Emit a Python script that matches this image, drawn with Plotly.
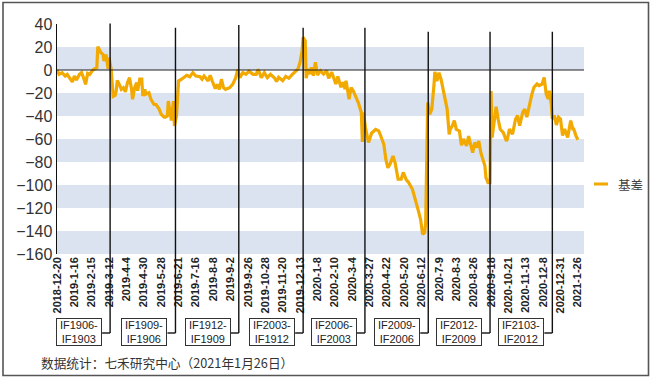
import plotly.graph_objects as go

# ---------------- data ----------------
# trading-day index since 2018-12-20, and basis value
day = [0, 2, 5, 8, 10, 13, 15, 17, 19, 22, 24, 26, 28, 30, 32, 35, 37, 39, 40, 41,
       43, 45, 46, 48, 49, 50, 51, 53, 55, 57, 58, 59, 61, 63, 65, 67, 69, 71, 73, 74,
       76, 78, 79, 81, 83, 84, 86, 87, 90, 92, 95, 97, 100, 102, 105, 106, 108, 109, 111, 112,
       114, 115, 117, 118, 119, 122, 124, 127, 130, 133, 136, 140, 142, 144, 148, 150, 152, 155, 157, 159,
       161, 163, 165, 169, 172, 175, 177, 179, 182, 185, 188, 192, 195, 197, 200, 203, 206, 209, 213, 215,
       217, 221, 224, 227, 230, 234, 236, 238, 240, 241, 243, 244, 246, 248, 249, 251, 253, 255, 258, 261,
       264, 266, 269, 273, 275, 278, 280, 282, 283, 286, 288, 290, 293, 295, 298, 299, 300, 302, 305, 308,
       312, 315, 317, 320, 322, 324, 326, 329, 331, 333, 334, 337, 339, 342, 344, 348, 351, 353, 356, 358,
       360, 361, 362, 363, 365, 367, 369, 370, 372, 374, 376, 378, 380, 382, 384, 385, 387, 389, 391, 394,
       396, 398, 401, 403, 405, 407, 409, 411, 413, 415, 417, 419, 420, 422, 424, 425, 426, 428, 430, 432,
       434, 437, 440, 441, 443, 446, 449, 451, 453, 456, 458, 460, 462, 465, 467, 470, 472, 475, 477, 478,
       479, 481, 482, 484, 485, 487, 489, 491, 493, 495, 497, 500, 503, 505, 506, 508, 510]
basis = [0, -3.8, -2.3, -5.2, -3.8, -7.5, -10.4, -5.2, -8.7, -3.8, -2.3, -6.7, -12.5, -2.9, -3.8, 0, 1.2, 2, 20.3, 18,
         15, 13.6, 7.8, 13.6, 7, 1, 10.7, 0.6, -23, -22, -18, -9, -12.5, -16.8, -15.4, -19, -11, -6.7, -16.8, -25.5,
         -15.4, -11, -18, -8, -8, -22.6, -16.8, -21, -19.7, -25.5, -30, -30, -34, -38.5, -41, -41, -40, -27, -38.5, -44,
         -27, -48.7, -40, -25.5, -9.6, -8, -6.7, -4.6, -5.8, -2.3, -5.2, -5.8, -8, -5.2, -9.6, -4.6, -9.6, -16.2, -12.5, -16.8,
         -8, -15.4, -16.8, -15.4, -12.5, -6.7, 0.6, -6.7, -2.3, -3.8, -1, -3.8, -3.8, 0.6, -6.7, -2.3, -6.7, -3.8, -7, -10,
         -6.4, -9.3, -5.5, -7.2, -4.3, -1.4, 0.9, 6.7, 16.8, 28.4, 25.5, -7.2, 0.9, -3.5, 2.3, -4.9, 6.7, -4.3, -0.6, -3.5,
         -0.6, -7.2, -2, -12.2, -5.5, -15, -10.7, -16.5, -9.3, -25.5, -15.3, -18, -24, -28.3, -37, -62.6, -37, -50, -63, -55,
         -51.6, -53, -57.4, -64.6, -77.7, -85, -82, -74.8, -80.6, -89, -95, -95, -89, -95.6, -97.4, -103.7, -112.4, -119.7, -129.8, -142.9,
         -141.5, -132.7, -77.7, -28.3, -38.5, -34, -14, -1.7, -9.6, -2.3, -8, -16.8, -25.5, -34, -56, -51.6, -48.7, -44, -51.6, -53,
         -65.5, -60, -66, -57.4, -64.6, -71.9, -63, -67.5, -61.7, -71.9, -77.7, -83.5, -93.6, -98, -98, -18.3, -58.8, -43, -32, -43,
         -51.6, -54.5, -61.7, -60, -51.3, -55.7, -42.6, -39.7, -48.4, -36.8, -34, -41, -32.5, -20.9, -15, -12.2, -13.6, -12.2, -6.4, -15,
         -20.9, -25.2, -18, -29.6, -42.6, -39.7, -47.8, -41, -42.6, -57, -51.3, -58.6, -44, -51.3, -51.3, -57, -60.6]

tick_dates = ["2018-12-20", "2019-1-16", "2019-2-15", "2019-3-12", "2019-4-4", "2019-4-30",
              "2019-5-28", "2019-6-21", "2019-7-16", "2019-8-8", "2019-9-2", "2019-9-26",
              "2019-10-28", "2019-11-20", "2019-12-13", "2020-1-8", "2020-2-10", "2020-3-4",
              "2020-3-27", "2020-4-22", "2020-5-20", "2020-6-12", "2020-7-9", "2020-8-3",
              "2020-8-26", "2020-9-18", "2020-10-21", "2020-11-13", "2020-12-8", "2020-12-31",
              "2021-1-26"]
tick_step = 17  # trading days between labels

roll_day = [52, 116, 178, 241, 301.5, 363.5, 424, 485]
roll_labels = ["IF1906-<br>IF1903", "IF1909-<br>IF1906", "IF1912-<br>IF1909", "IF2003-<br>IF1912",
               "IF2006-<br>IF2003", "IF2009-<br>IF2006", "IF2012-<br>IF2009", "IF2103-<br>IF2012"]

series_name = "基差"
source_note = "数据统计：七禾研究中心（2021年1月26日）"

y_ticks = list(range(-160, 41, 20))

# ---------------- layout helpers (pixels -> paper) ----------------
W, H = 656, 379
PL, PR, PT, PB = 57, 584, 24, 254


def fx(p):
    return (p - PL) / (PR - PL)


def fy(p):
    return (PB - p) / (PB - PT)


LINE_COLOR = "#F2A900"
BAND_COLOR = "#DAE3EF"

fig = go.Figure()
fig.add_trace(go.Scatter(x=day, y=basis, mode="lines", name=series_name,
                         line=dict(color=LINE_COLOR, width=3.2), showlegend=False,
                         hoverinfo="skip"))

shapes = []
# horizontal bands
for lo in range(-160, 40, 40):
    shapes.append(dict(type="rect", xref="paper", yref="y", x0=0, x1=1, y0=lo, y1=lo + 20,
                       fillcolor=BAND_COLOR, line=dict(width=0), layer="below"))
# zero line
shapes.append(dict(type="line", xref="paper", yref="y", x0=0, x1=1, y0=0, y1=0,
                   line=dict(color="#222", width=1.2), layer="above"))

# roll lines with connectors
line_tops = [23.5, 27.7, 25, 27.7, 27.7, 31.7, 31.7, 31.7]
conn_y = 333
box_y = 332
annotations = []
for d, lab, top in zip(roll_day, roll_labels, line_tops):
    shapes.append(dict(type="line", xref="x", yref="paper", x0=d, x1=d,
                       y0=fy(conn_y), y1=fy(top), line=dict(color="#111", width=1.4), layer="above"))
    shapes.append(dict(type="line", xref="x", yref="paper", xsizemode="pixel", xanchor=d,
                       x0=-8, x1=0, y0=fy(conn_y), y1=fy(conn_y),
                       line=dict(color="#111", width=1.4)))
    annotations.append(dict(text=lab, xref="x", yref="paper", x=d, y=fy(box_y),
                            xanchor="right", yanchor="middle", xshift=-8, showarrow=False,
                            align="center", width=42, height=24, borderpad=1, borderwidth=1,
                            bordercolor="#333", bgcolor="white",
                            font=dict(family="Liberation Sans, Arial", size=11, color="#222")))

# outer frame
shapes.append(dict(type="rect", xref="paper", yref="paper", x0=fx(3), x1=fx(648.5),
                   y0=fy(375.5), y1=fy(2.5), line=dict(color="#555", width=1.6),
                   fillcolor="rgba(0,0,0,0)", layer="above"))

# legend (manual)
shapes.append(dict(type="line", xref="paper", yref="paper", x0=fx(594), x1=fx(608),
                   y0=fy(184), y1=fy(184), line=dict(color=LINE_COLOR, width=3)))
annotations.append(dict(text=series_name, xref="paper", yref="paper", x=fx(616), y=fy(184),
                        xanchor="left", yanchor="middle", showarrow=False,
                        font=dict(family="Noto Sans CJK SC", size=12.5, color="#404040")))

# source note
annotations.append(dict(text=source_note, xref="paper", yref="paper", x=fx(39), y=fy(362),
                        xanchor="left", yanchor="middle", showarrow=False,
                        font=dict(family="Noto Sans CJK SC", size=12.7, color="#333")))

fig.update_layout(
    width=W, height=H,
    margin=dict(l=PL, r=W - PR, t=PT, b=H - PB),
    paper_bgcolor="white", plot_bgcolor="white",
    shapes=shapes, annotations=annotations,
    xaxis=dict(range=[0, 516], tickvals=[i * tick_step for i in range(len(tick_dates))],
               ticktext=tick_dates, tickangle=-90, showgrid=False, zeroline=False,
               showline=False, ticks="",
               tickfont=dict(family="Liberation Sans, Arial", size=11, color="#222", weight="bold")),
    yaxis=dict(range=[-160, 40], tickvals=y_ticks, showgrid=False, zeroline=False,
               showline=True, linecolor="#111", linewidth=1.5, ticks="",
               tickfont=dict(family="Liberation Sans, Arial", size=16, color="#333")),
    showlegend=False,
)

fig.write_html("out.html", config={"displayModeBar": False, "staticPlot": True},
               post_script="document.body.style.margin='0';document.body.style.overflow='hidden';")
